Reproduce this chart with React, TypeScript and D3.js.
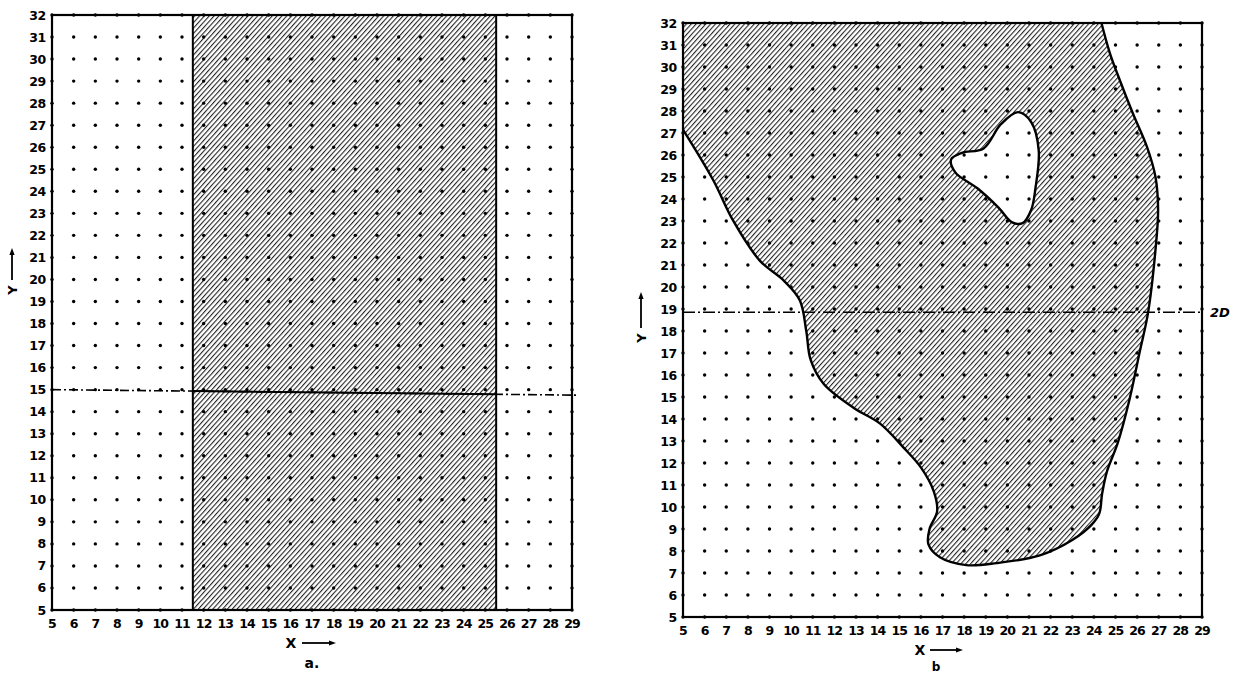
import React from "react";
import * as d3 from "d3";

// ---- data ----
const xTicks = d3.range(5, 30); // 5..29
const yTicks = d3.range(5, 33); // 5..32

// Panel a: shaded vertical band and horizontal reference line
const bandA = [11.5, 25.5];
const lineA = [[5, 15.0], [29.2, 14.75]];

// Panel b: shaded region boundary (clockwise from top edge) and hole
const regionB: [number, number][] = [
  [24.35, 32], [24.75, 30.6], [25.2, 29.4], [25.8, 27.9], [26.46, 26.36], [26.85, 25.0],
  [26.97, 23.5], [26.85, 21.7], [26.5, 18.8], [26.13, 17.1], [25.65, 14.9], [25.1, 12.9],
  [24.6, 11.6], [24.38, 10.6], [24.25, 9.7], [23.9, 9.2], [23.0, 8.5], [21.5, 7.8],
  [19.5, 7.45], [18.1, 7.36], [16.9, 7.7], [16.35, 8.3], [16.4, 9.0], [16.75, 9.8],
  [16.6, 10.7], [16.0, 11.8], [15.2, 12.7], [14.1, 13.8], [12.9, 14.5], [11.5, 15.6],
  [10.9, 16.7], [10.7, 18.0], [10.4, 19.4], [9.65, 20.3], [8.55, 21.2], [7.3, 23.05],
  [6.4, 24.85], [5, 27.15],
];
const holeB: [number, number][] = [
  [17.4, 25.8], [17.9, 26.1], [18.9, 26.3], [19.7, 27.4], [20.5, 27.95], [21.1, 27.5],
  [21.45, 26.2], [21.3, 24.5], [21.1, 23.5], [20.7, 22.9], [20.2, 22.95], [19.6, 23.6],
  [18.6, 24.5], [17.6, 25.2],
];
const lineB = [[5, 18.85], [29, 18.85]];
const lineBLabel = "2D";

const FONT = "'DejaVu Sans', sans-serif";

function Grid({ x, y }: { x: d3.ScaleLinear<number, number>; y: d3.ScaleLinear<number, number> }) {
  const dots: React.ReactNode[] = [];
  xTicks.forEach((xv) =>
    yTicks.forEach((yv) => {
      dots.push(<circle key={`${xv}-${yv}`} cx={x(xv)} cy={y(yv)} r={1.7} fill="#000" />);
    })
  );
  return <g>{dots}</g>;
}

function Axes({ x, y }: { x: d3.ScaleLinear<number, number>; y: d3.ScaleLinear<number, number> }) {
  return (
    <g>
      <rect
        x={x(5)}
        y={y(32)}
        width={x(29) - x(5)}
        height={y(5) - y(32)}
        fill="none"
        stroke="#000"
        strokeWidth={2.2}
      />
      {yTicks.map((v) => (
        <text
          key={"y" + v}
          x={x(5) - 6}
          y={y(v)}
          dy="0.36em"
          textAnchor="end"
          fontFamily={FONT}
          fontWeight="bold"
          fontSize={12.5}
          letterSpacing={-0.3}
        >
          {v}
        </text>
      ))}
      {xTicks.map((v) => (
        <text
          key={"x" + v}
          x={x(v)}
          y={y(5) + 18}
          textAnchor="middle"
          fontFamily={FONT}
          fontWeight="bold"
          fontSize={12.5}
          letterSpacing={-0.9}
        >
          {v}
        </text>
      ))}
    </g>
  );
}

function Arrow({ x1, y1, x2, y2 }: { x1: number; y1: number; x2: number; y2: number }) {
  const ang = Math.atan2(y2 - y1, x2 - x1);
  const L = 7, W = 2.6;
  const p1 = [x2 - L * Math.cos(ang) + W * Math.sin(ang), y2 - L * Math.sin(ang) - W * Math.cos(ang)];
  const p2 = [x2 - L * Math.cos(ang) - W * Math.sin(ang), y2 - L * Math.sin(ang) + W * Math.cos(ang)];
  return (
    <g>
      <line x1={x1} y1={y1} x2={x2 - 3 * Math.cos(ang)} y2={y2 - 3 * Math.sin(ang)} stroke="#000" strokeWidth={1.8} />
      <path d={`M${x2},${y2}L${p1[0]},${p1[1]}L${p2[0]},${p2[1]}Z`} fill="#000" />
    </g>
  );
}

export default function App() {
  // Panel a scales
  const xa = d3.scaleLinear().domain([5, 29]).range([52, 572]);
  const ya = d3.scaleLinear().domain([5, 32]).range([610, 15]);
  // Panel b scales
  const xb = d3.scaleLinear().domain([5, 29]).range([683, 1202]);
  const yb = d3.scaleLinear().domain([5, 32]).range([617, 23]);

  const lineGenA = d3
    .line<number[]>()
    .x((d) => xa(d[0]))
    .y((d) => ya(d[1]));

  const curveGen = d3
    .line<[number, number]>()
    .x((d) => xb(d[0]))
    .y((d) => yb(d[1]))
    .curve(d3.curveCatmullRom.alpha(0.5));
  const holeGen = d3
    .line<[number, number]>()
    .x((d) => xb(d[0]))
    .y((d) => yb(d[1]))
    .curve(d3.curveCatmullRomClosed.alpha(0.5));

  const outerCurve = curveGen(regionB) || "";
  const holePath = holeGen(holeB) || "";
  const regionPath = `${outerCurve}L${xb(5)},${yb(32)}Z ${holePath}`;

  const slopeA = (lineA[1][1] - lineA[0][1]) / (lineA[1][0] - lineA[0][0]);
  const yAt = (xv: number) => lineA[0][1] + slopeA * (xv - lineA[0][0]);

  return (
    <svg
      width={1238}
      height={673}
      style={{ position: "absolute", left: 0, top: 0, background: "#fff" }}
    >
      <defs>
        <pattern
          id="hatch"
          patternUnits="userSpaceOnUse"
          width={3.6}
          height={10}
          patternTransform="rotate(42)"
        >
          <rect width={3.6} height={10} fill="#fff" />
          <line x1={0.6} y1={0} x2={0.6} y2={10} stroke="#000" strokeWidth={0.95} />
        </pattern>
      </defs>
      <rect width={1238} height={673} fill="#fff" />

      {/* ---------- Panel a ---------- */}
      <rect
        x={xa(bandA[0])}
        y={ya(32)}
        width={xa(bandA[1]) - xa(bandA[0])}
        height={ya(5) - ya(32)}
        fill="url(#hatch)"
        stroke="#000"
        strokeWidth={2}
      />
      <Grid x={xa} y={ya} />
      <path
        d={lineGenA(lineA) || ""}
        fill="none"
        stroke="#000"
        strokeWidth={1.6}
        strokeDasharray="9 3 2 3"
      />
      <path
        d={lineGenA([[bandA[0], yAt(bandA[0])], [bandA[1], yAt(bandA[1])]]) || ""}
        fill="none"
        stroke="#000"
        strokeWidth={2}
      />
      <Axes x={xa} y={ya} />
      <text x={291} y={648} textAnchor="middle" fontFamily={FONT} fontWeight="bold" fontSize={14}>
        X
      </text>
      <Arrow x1={302} y1={643} x2={336} y2={643} />
      <text x={312} y={668} textAnchor="middle" fontFamily={FONT} fontWeight="bold" fontSize={14}>
        a.
      </text>
      <text
        transform="translate(17,290) rotate(-90)"
        textAnchor="middle"
        fontFamily={FONT}
        fontWeight="bold"
        fontSize={13}
      >
        Y
      </text>
      <Arrow x1={12} y1={280} x2={12} y2={248} />

      {/* ---------- Panel b ---------- */}
      <path d={regionPath} fill="url(#hatch)" fillRule="evenodd" stroke="none" />
      <Grid x={xb} y={yb} />
      <path
        d={outerCurve}
        fill="none"
        stroke="#000"
        strokeWidth={2.4}
        strokeLinejoin="round"
      />
      <path d={holePath} fill="none" stroke="#000" strokeWidth={2.4} />
      <path
        d={`M${xb(lineB[0][0])},${yb(lineB[0][1])}L${xb(lineB[1][0])},${yb(lineB[1][1])}`}
        fill="none"
        stroke="#000"
        strokeWidth={1.6}
        strokeDasharray="12 3 2 3"
      />
      <Axes x={xb} y={yb} />
      <text
        x={xb(29) + 8}
        y={yb(lineB[1][1]) + 5}
        fontFamily={FONT}
        fontStyle="italic"
        fontWeight="bold"
        fontSize={13}
      >
        {lineBLabel}
      </text>
      <text x={920} y={655} textAnchor="middle" fontFamily={FONT} fontWeight="bold" fontSize={14}>
        X
      </text>
      <Arrow x1={930} y1={650} x2={963} y2={650} />
      <text x={936} y={671} textAnchor="middle" fontFamily={FONT} fontWeight="bold" fontSize={12}>
        b
      </text>
      <text
        transform="translate(646,338) rotate(-90)"
        textAnchor="middle"
        fontFamily={FONT}
        fontWeight="bold"
        fontSize={13}
      >
        Y
      </text>
      <Arrow x1={641} y1={328} x2={641} y2={292} />
    </svg>
  );
}
